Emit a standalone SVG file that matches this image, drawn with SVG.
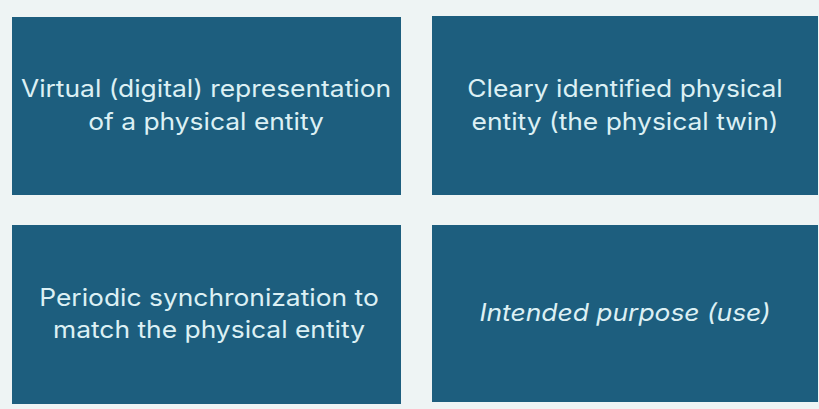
<svg xmlns="http://www.w3.org/2000/svg" width="819" height="409" viewBox="0 0 819 409">
  <style>
    .box { fill: #1d5e7e; }
    .label { fill: #dcf0f4; font-family: Inter, "Open Sans", "Liberation Sans", sans-serif; font-size: 24px; text-anchor: middle; }
    .em { font-style: italic; }
  </style>
  <rect x="0" y="0" width="819" height="409" fill="#eef4f4"/>
  <g id="node-virtual">
    <rect class="box" x="12" y="17" width="389" height="178"/>
    <g transform="translate(206 0) scale(1.1 1)">
      <text class="label" x="0" y="97">Virtual (digital) representation</text>
      <text class="label" x="0" y="130">of a physical entity</text>
    </g>
  </g>
  <g id="node-physical">
    <rect class="box" x="432" y="16" width="386" height="179"/>
    <g transform="translate(625 0) scale(1.1 1)">
      <text class="label" x="0" y="97">Cleary identified physical</text>
      <text class="label" x="0" y="130">entity (the physical twin)</text>
    </g>
  </g>
  <g id="node-sync">
    <rect class="box" x="12" y="225" width="389" height="179"/>
    <g transform="translate(209 0) scale(1.1 1)">
      <text class="label" x="0" y="306">Periodic synchronization to</text>
      <text class="label" x="0" y="338">match the physical entity</text>
    </g>
  </g>
  <g id="node-purpose">
    <rect class="box" x="432" y="225" width="386" height="177"/>
    <g transform="translate(625 0) scale(1.1 1)">
      <text class="label em" x="0" y="321">Intended purpose (use)</text>
    </g>
  </g>
  <g id="connectors"></g>
</svg>
